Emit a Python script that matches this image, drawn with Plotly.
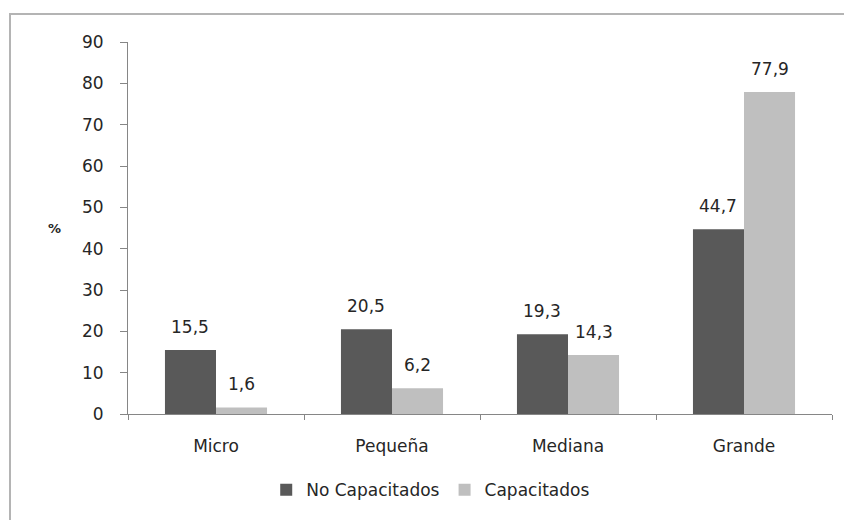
import plotly.graph_objects as go

categories = ["Micro", "Pequeña", "Mediana", "Grande"]
no_capacitados = [15.5, 20.5, 19.3, 44.7]
capacitados = [1.6, 6.2, 14.3, 77.9]
y_ticks = [0, 10, 20, 30, 40, 50, 60, 70, 80, 90]

DARK = "#595959"
LIGHT = "#BFBFBF"
AXIS = "#868686"
TEXT = "#262626"
FONT = "DejaVu Sans"

W, H = 844, 520
ML, MR, MT, MB = 128, 12, 42, 102
BARGAP = 0.42

fig = go.Figure()
fig.add_trace(go.Bar(x=categories, y=no_capacitados, name="No Capacitados",
                     marker=dict(color=DARK, line=dict(width=0))))
fig.add_trace(go.Bar(x=categories, y=capacitados, name="Capacitados",
                     marker=dict(color=LIGHT, line=dict(width=0))))

# data labels above each bar
plot_w = W - ML - MR
bar_w = plot_w / len(categories) * (1 - BARGAP) / 2
for series, sign in ((no_capacitados, -1), (capacitados, 1)):
    for c, v in zip(categories, series):
        fig.add_annotation(x=c, y=v, xref="x", yref="y",
                           text=f"{v:.1f}".replace(".", ","),
                           showarrow=False, yanchor="middle",
                           xshift=sign * bar_w / 2, yshift=23,
                           font=dict(family=FONT, size=17, color=TEXT))

fig.add_annotation(x=-0.104, y=0.5, xref="paper", yref="paper", text="<b>%</b>",
                   showarrow=False, xanchor="center", yanchor="middle",
                   font=dict(family=FONT, size=13, color=TEXT))

# outer chart border (only top/left visible in the reference)
fig.add_shape(type="rect", xref="paper", yref="paper",
              x0=-0.1676, x1=1.2, y0=-0.6, y1=1.075,
              line=dict(color="#B4B4B4", width=2), layer="below")

fig.update_layout(
    width=W, height=H,
    margin=dict(l=ML, r=MR, t=MT, b=MB),
    paper_bgcolor="white", plot_bgcolor="white",
    barmode="group", bargap=BARGAP, bargroupgap=0,
    font=dict(family=FONT, size=17, color=TEXT),
    showlegend=True,
    legend=dict(orientation="h", x=0.43, xanchor="center", y=-0.205,
                yanchor="middle", font=dict(family=FONT, size=17, color=TEXT),
                itemwidth=30, tracegroupgap=0),
    xaxis=dict(showline=True, linecolor=AXIS, linewidth=1, ticks="outside",
               tickson="boundaries", ticklen=5, tickcolor=AXIS,
               ticklabelstandoff=17, showgrid=False, zeroline=False),
    yaxis=dict(range=[0, 90], tickvals=y_ticks, showline=True, linecolor=AXIS,
               linewidth=1, ticks="outside", ticklen=7, tickcolor=AXIS,
               ticklabelstandoff=13, showgrid=False, zeroline=False),
)

fig.write_html("out.html", config={"displayModeBar": False},
               post_script="document.body.style.margin='0';")
